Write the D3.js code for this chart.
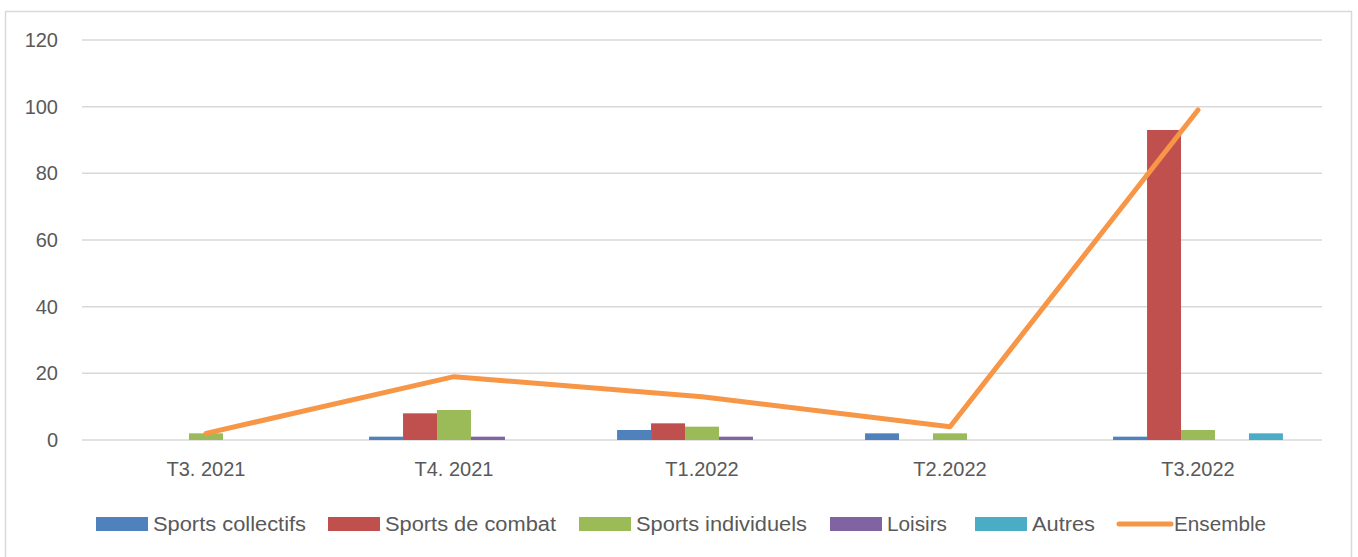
<!DOCTYPE html>
<html>
<head>
<meta charset="utf-8">
<script src="https://cdn.jsdelivr.net/npm/d3@7"></script>
<style>
  body { margin: 0; background: #fff; }
  text { font-family: "Liberation Sans", Arial, sans-serif; fill: #595959; }
</style>
</head>
<body>
<div id="chart"></div>
<script>
const categories = ['T3. 2021', 'T4. 2021', 'T1.2022', 'T2.2022', 'T3.2022'];
const seriesNames = ['Sports collectifs', 'Sports de combat', 'Sports individuels', 'Loisirs', 'Autres'];
const sportsCollectifs = [0, 1, 3, 2, 1];
const sportsCombat = [0, 8, 5, 0, 93];
const sportsIndividuels = [2, 9, 4, 2, 3];
const loisirs = [0, 1, 1, 0, 0];
const autres = [0, 0, 0, 0, 2];
const ensemble = [2, 19, 13, 4, 99];
const yTicks = [0, 20, 40, 60, 80, 100, 120];

const seriesValues = [sportsCollectifs, sportsCombat, sportsIndividuels, loisirs, autres];
const colors = ['#4F81BD', '#C0504D', '#9BBB59', '#8064A2', '#4BACC6'];
const lineColor = '#F79646';

const W = 1358, H = 557;
const margin = { top: 40, right: 36, bottom: 117, left: 82 };

const svg = d3.select('#chart').append('svg')
    .attr('width', W)
    .attr('height', H);

// chart frame
svg.append('rect')
    .attr('x', 5.5).attr('y', 11.5)
    .attr('width', 1346).attr('height', 560)
    .attr('fill', 'none')
    .attr('stroke', '#d9d9d9')
    .attr('stroke-width', 1.5);

const x0 = d3.scaleBand()
    .domain(categories)
    .range([margin.left, W - margin.right])
    .padding(0);

const x1 = d3.scaleBand()
    .domain(seriesNames)
    .range([0, x0.bandwidth()])
    .paddingInner(0)
    .paddingOuter(1.15);

const y = d3.scaleLinear()
    .domain([0, 120])
    .range([H - margin.bottom, margin.top]);

// gridlines
svg.append('g')
    .selectAll('line')
    .data(yTicks)
    .enter()
    .append('line')
    .attr('x1', margin.left)
    .attr('x2', W - margin.right)
    .attr('y1', (d) => y(d))
    .attr('y2', (d) => y(d))
    .attr('stroke', '#d9d9d9')
    .attr('stroke-width', 1.5);

// y axis labels
const yAxis = svg.append('g')
    .attr('transform', 'translate(' + (margin.left - 24) + ',0)')
    .call(d3.axisLeft(y).tickValues(yTicks).tickSize(0).tickPadding(0));
yAxis.select('.domain').remove();
yAxis.selectAll('text')
    .attr('font-size', 20)
    .attr('font-family', null)
    .attr('fill', '#595959');

// x axis labels
const xAxis = svg.append('g')
    .attr('transform', 'translate(0,' + y(0) + ')')
    .call(d3.axisBottom(x0).tickSize(0).tickPadding(22));
xAxis.select('.domain').remove();
xAxis.selectAll('text')
    .attr('font-size', 20)
    .attr('font-family', null)
    .attr('fill', '#595959');

// bars
const groups = svg.append('g')
    .selectAll('g')
    .data(categories)
    .enter()
    .append('g')
    .attr('transform', (d) => 'translate(' + x0(d) + ',0)');

groups.selectAll('rect')
    .data((c, i) => seriesNames.map((s, j) => ({ s: s, j: j, v: seriesValues[j][i] })))
    .enter()
    .append('rect')
    .attr('x', (d) => x1(d.s))
    .attr('width', x1.bandwidth())
    .attr('y', (d) => y(d.v))
    .attr('height', (d) => y(0) - y(d.v))
    .attr('fill', (d) => colors[d.j]);

// ensemble line
const line = d3.line()
    .x((d, i) => x0(categories[i]) + x0.bandwidth() / 2)
    .y((d) => y(d));

svg.append('path')
    .datum(ensemble)
    .attr('d', line)
    .attr('fill', 'none')
    .attr('stroke', lineColor)
    .attr('stroke-width', 5)
    .attr('stroke-linecap', 'round')
    .attr('stroke-linejoin', 'round');

// legend
const legendItems = [
    { name: 'Sports collectifs', x: 96, w: 153, color: colors[0], type: 'rect' },
    { name: 'Sports de combat', x: 328, w: 171, color: colors[1], type: 'rect' },
    { name: 'Sports individuels', x: 579, w: 171, color: colors[2], type: 'rect' },
    { name: 'Loisirs', x: 830, w: 60, color: colors[3], type: 'rect' },
    { name: 'Autres', x: 975, w: 63, color: colors[4], type: 'rect' },
    { name: 'Ensemble', x: 1117, w: 92, color: lineColor, type: 'line' },
];
const legendY = 524;
const legend = svg.append('g');
legendItems.forEach((it) => {
    if (it.type === 'rect') {
        legend.append('rect')
            .attr('x', it.x).attr('y', legendY - 7)
            .attr('width', 52).attr('height', 14)
            .attr('fill', it.color);
    } else {
        legend.append('line')
            .attr('x1', it.x + 2).attr('x2', it.x + 54)
            .attr('y1', legendY).attr('y2', legendY)
            .attr('stroke', it.color)
            .attr('stroke-width', 5)
            .attr('stroke-linecap', 'round');
    }
    legend.append('text')
        .attr('x', it.x + 57)
        .attr('y', legendY + 7)
        .attr('font-size', 20)
        .attr('textLength', it.w)
        .attr('lengthAdjust', 'spacingAndGlyphs')
        .text(it.name);
});
</script>
</body>
</html>
